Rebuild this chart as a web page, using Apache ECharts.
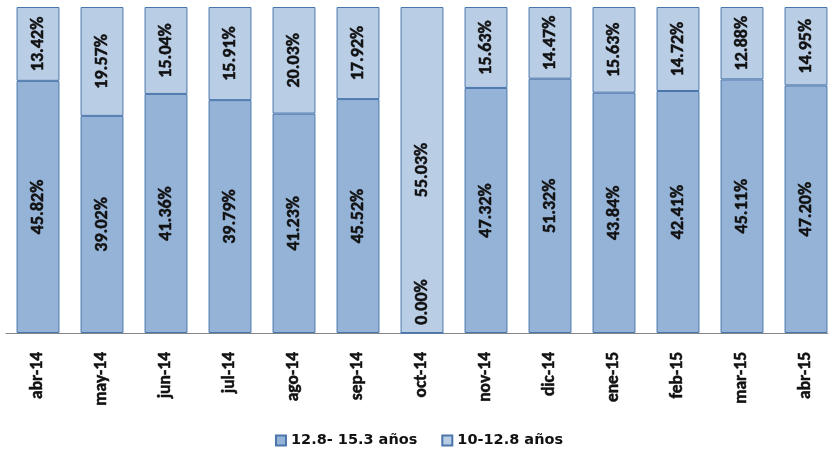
<!DOCTYPE html>
<html>
<head>
<meta charset="utf-8">
<script src="https://cdn.jsdelivr.net/npm/echarts@6/dist/echarts.min.js"></script>
<style>html,body{margin:0;padding:0;background:#fff;overflow:hidden}#c{width:838px;height:452px}</style>
</head>
<body>
<div id="c"></div>
<script>
const categories = ['abr-14','may-14','jun-14','jul-14','ago-14','sep-14','oct-14','nov-14','dic-14','ene-15','feb-15','mar-15','abr-15'];
const seriesNames = ['12.8- 15.3 años','10-12.8 años'];
const older = [45.82,39.02,41.36,39.79,41.23,45.52,0.00,47.32,51.32,43.84,42.41,45.11,47.20];
const younger = [13.42,19.57,15.04,15.91,20.03,17.92,55.03,15.63,14.47,15.63,14.72,12.88,14.95];

const NARROW = 'Carlito, Lato, sans-serif';
const WIDE = '"DejaVu Sans", sans-serif';
function share(a, b) { const t = a + b; return t ? a / t * 100 : 0; }
const olderData = older.map((v, i) => {
  const d = { value: share(v, younger[i]), raw: v };
  if (v === 0) d.label = { offset: [31, 0] };
  return d;
});
const youngerData = younger.map((v, i) => ({ value: share(v, older[i]), raw: v }));
const labelCfg = {
  show: true, position: 'inside', rotate: 90,
  formatter: p => p.data.raw.toFixed(2) + '%',
  fontFamily: NARROW, fontWeight: 'bold', fontSize: 18, color: '#111',
  textBorderColor: '#111', textBorderWidth: 0.5
};
const chart = echarts.init(document.getElementById('c'), null, { renderer: 'canvas' });
chart.setOption({
  animation: false,
  grid: { left: 6, top: 7, right: 0, bottom: 119, containLabel: false },
  legend: {
    top: 428, left: 'center', itemWidth: 10, itemHeight: 10, itemGap: 24,
    textStyle: { fontFamily: WIDE, fontWeight: 'bold', fontSize: 14.5, color: '#111' },
    data: seriesNames.map(n => ({ name: n, icon: 'rect' }))
  },
  xAxis: {
    type: 'category', data: categories,
    axisLine: { lineStyle: { color: '#868686', width: 1 } },
    axisTick: { show: false },
    axisLabel: { rotate: 90, margin: 19, fontFamily: NARROW, fontWeight: 'bold', fontSize: 17.5, color: '#111',
      textBorderColor: '#111', textBorderWidth: 0.5 }
  },
  yAxis: { type: 'value', min: 0, max: 100, show: false, splitLine: { show: false } },
  series: [
    { name: seriesNames[0], type: 'bar', stack: 's', barCategoryGap: '33%', data: olderData,
      itemStyle: { color: '#95B3D7', borderColor: '#4A76AC', borderWidth: 1 }, label: labelCfg },
    { name: seriesNames[1], type: 'bar', stack: 's', barCategoryGap: '33%', data: youngerData,
      itemStyle: { color: '#B9CDE5', borderColor: '#4A76AC', borderWidth: 1 }, label: labelCfg }
  ]
});
</script>
</body>
</html>
